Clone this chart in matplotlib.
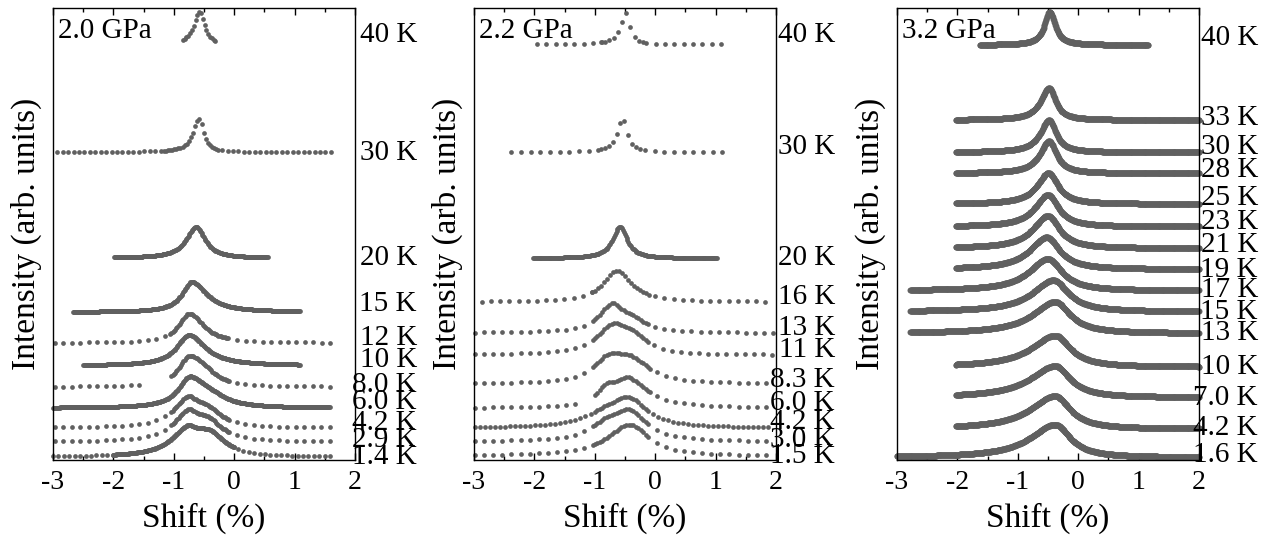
import numpy as np
import matplotlib
matplotlib.use("Agg")
import matplotlib.pyplot as plt
from matplotlib.ticker import MultipleLocator
import matplotlib.transforms as mtransforms

plt.rcParams["font.family"] = ["Liberation Serif", "DejaVu Serif"]
plt.rcParams["axes.unicode_minus"] = False

# ---- 2.0 GPa panel (top curve first) ----
p1_temps = ["40 K", "30 K", "20 K", "15 K", "12 K", "10 K", "8.0 K", "6.0 K", "4.2 K", "2.9 K", "1.4 K"]
p1_base = [415, 308, 202, 148, 117, 94.5, 73, 52, 32, 18, 3]
p1_height = [33, 33, 31, 30, 29.5, 30.5, 31, 31.6, 32, 33, 32]
p1_center = [-0.57, -0.58, -0.63, -0.70, -0.74, -0.75, -0.75, -0.75, -0.77, -0.77, -0.78]
p1_wl = [0.12, 0.12, 0.20, 0.20, 0.22, 0.25, 0.22, 0.22, 0.30, 0.30, 0.33]
p1_wr = [0.10, 0.09, 0.18, 0.30, 0.28, 0.33, 0.27, 0.25, 0.18, 0.18, 0.20]
p1_sh_pos = [0, 0, 0, 0, 0, 0, -0.50, -0.45, -0.47, -0.45, -0.42]
p1_sh_w = [0, 0, 0, 0, 0, 0, 0.25, 0.35, 0.30, 0.30, 0.32]
p1_sh_amp = [0, 0, 0, 0, 0, 0, 0.35, 0.5, 0.8, 0.9, 1.05]
p1_segs = [
    [(-0.85, -0.30, 0.03)],
    [(-2.93, -1.20, 0.09), (-1.17, -0.25, 0.035), (-0.2, 1.59, 0.09)],
    [(-1.99, 0.56, 0.012)],
    [(-2.67, 1.09, 0.012)],
    [(-2.97, -1.15, 0.14), (-1.06, -0.10, 0.02), (0.05, 1.59, 0.14)],
    [(-2.50, 1.09, 0.012)],
    [(-2.97, -1.55, 0.14), (-1.04, -0.08, 0.02), (0.04, 1.59, 0.14)],
    [(-3.00, 1.59, 0.012)],
    [(-2.97, -1.12, 0.14), (-1.04, -0.08, 0.02), (0.04, 1.59, 0.14)],
    [(-2.97, -1.12, 0.14), (-1.04, -0.08, 0.02), (0.04, 1.59, 0.14)],
    [(-3.00, -2.00, 0.09), (-2.00, 0.00, 0.012), (0.06, 1.59, 0.09)],
]
p1_label_y = [425, 307, 202, 156, 122, 100, 75, 58, 37, 20, 3]

# ---- 2.2 GPa panel ----
p2_temps = ["40 K", "30 K", "20 K", "16 K", "13 K", "11 K", "8.3 K", "6.0 K", "4.2 K", "3.0 K", "1.5 K"]
p2_base = [415.5, 307.7, 201.7, 158, 127, 105, 76, 52, 32, 18.3, 4]
p2_height = [31.5, 33, 31.6, 31.5, 30, 32, 31, 31, 31, 32.5, 31.5]
p2_center = [-0.48, -0.53, -0.58, -0.64, -0.72, -0.72, -0.78, -0.45, -0.42, -0.42, -0.42]
p2_wl = [0.11, 0.12, 0.15, 0.27, 0.26, 0.33, 0.30, 0.25, 0.35, 0.30, 0.45]
p2_wr = [0.08, 0.09, 0.14, 0.30, 0.18, 0.20, 0.30, 0.40, 0.35, 0.35, 0.38]
p2_sh_pos = [0, 0, 0, 0, -0.42, -0.42, -0.40, -0.80, -0.80, -0.80, 0]
p2_sh_w = [0, 0, 0, 0, 0.30, 0.32, 0.38, 0.22, 0.45, 0.35, 0]
p2_sh_amp = [0, 0, 0, 0, 0.6, 1.0, 1.1, 0.6, 0.5, 0.6, 0]
p2_segs = [
    [(-1.96, -0.95, 0.155), (-0.90, -0.20, 0.07), (-0.15, 1.07, 0.155)],
    [(-2.38, -0.95, 0.16), (-0.90, -0.25, 0.065), (-0.17, 1.07, 0.16)],
    [(-2.02, 1.02, 0.015)],
    [(-2.87, -1.10, 0.152), (-1.05, -0.10, 0.05), (0.00, 1.85, 0.152)],
    [(-2.98, -1.10, 0.15), (-1.00, -0.10, 0.04), (0.00, 1.90, 0.15)],
    [(-2.98, -1.10, 0.15), (-1.00, -0.12, 0.04), (-0.02, 1.90, 0.15)],
    [(-2.98, -1.10, 0.15), (-1.00, -0.08, 0.04), (0.03, 1.90, 0.15)],
    [(-2.98, -1.30, 0.15), (-1.00, -0.08, 0.04), (0.03, 1.90, 0.15)],
    [(-2.98, -1.05, 0.083), (-1.00, -0.10, 0.04), (-0.04, 1.90, 0.083)],
    [(-2.98, -1.10, 0.15), (-1.00, -0.10, 0.04), (0.03, 1.90, 0.15)],
    [(-2.98, -1.10, 0.15), (-1.00, -0.10, 0.04), (0.03, 1.90, 0.15)],
]
p2_label_y = [425, 313, 202, 163, 132, 110, 80, 57, 38, 20, 4]

# ---- 3.2 GPa panel ----
p3_temps = ["40 K", "33 K", "30 K", "28 K", "25 K", "23 K", "21 K", "19 K", "17 K",
            "15 K", "13 K", "10 K", "7.0 K", "4.2 K", "1.6 K"]
p3_base = [415, 340, 307.7, 286.7, 256, 233.3, 211.7, 190.7, 169.3, 148.3, 126.7, 93, 62.5, 31, 2.5]
p3_height = [33, 32, 32, 32, 31, 32, 32.5, 32, 32, 31.5, 31.5, 31.5, 31.5, 33, 33]
p3_center = [-0.47, -0.48, -0.48, -0.48, -0.49, -0.50, -0.50, -0.52, -0.50,
             -0.41, -0.38, -0.38, -0.38, -0.38, -0.38]
p3_wl = [0.11, 0.17, 0.18, 0.19, 0.23, 0.26, 0.30, 0.34, 0.38, 0.42, 0.45, 0.48, 0.50, 0.50, 0.50]
p3_wr = [0.11, 0.13, 0.14, 0.15, 0.19, 0.21, 0.23, 0.26, 0.28, 0.30, 0.30, 0.30, 0.30, 0.30, 0.30]
p3_xmin = [-1.63, -2.03, -2.03, -2.03, -2.03, -2.03, -2.03, -2.03, -2.78, -2.78, -2.78,
           -2.03, -2.03, -2.03, -3.00]
p3_xmax = [1.16] + [2.0] * 14
p3_label_y = [422, 342, 313, 290, 262, 238, 215, 190, 170, 148, 127, 93, 62, 32, 5]

DOT = "#606060"


def line_shape(x, c, wl, wr, sc, sw, sa):
    w = np.where(x < c, wl, wr)
    y = w ** 2 / ((x - c) ** 2 + w ** 2)
    if sa > 0:
        y = y + sa * sw ** 2 / ((x - sc) ** 2 + sw ** 2)
    return y


def draw_panel(ax, title, temps, base, height, center, wl, wr, sh_pos, sh_w, sh_amp,
               segs, label_y, ms, label_x):
    grid = np.linspace(-3, 2, 2001)
    trans = mtransforms.blended_transform_factory(ax.transAxes, ax.transData)
    for i in range(len(temps)):
        pars = (center[i], wl[i], wr[i], sh_pos[i], sh_w[i], sh_amp[i])
        top = line_shape(grid, *pars).max()
        x = np.concatenate([np.arange(a, b + st / 2, st) for a, b, st in segs[i]])
        y = base[i] + height[i] * line_shape(x, *pars) / top
        ax.plot(x, y, "o", ms=ms, mew=0, color=DOT, clip_on=False)
        ax.text(label_x, label_y[i], temps[i], transform=trans, ha="right",
                va="center", fontsize=21)

    ax.text(0.018, 0.95, title, transform=ax.transAxes, ha="left", va="center", fontsize=21)
    ax.set_xlim(-3, 2)
    ax.set_ylim(0, 452)
    ax.set_yticks([])
    ax.xaxis.set_major_locator(MultipleLocator(1))
    ax.xaxis.set_minor_locator(MultipleLocator(0.5))
    ax.tick_params(axis="x", which="both", direction="in", top=True, width=1, labelsize=20, pad=7)
    ax.tick_params(axis="x", which="major", length=5)
    ax.tick_params(axis="x", which="minor", length=3)
    for s in ax.spines.values():
        s.set_linewidth(1.0)
    ax.set_xlabel("Shift (%)", fontsize=24, labelpad=6)
    ax.set_ylabel("Intensity (arb. units)", fontsize=24)
    ax.yaxis.set_label_coords(-0.035, 0.5)


fig = plt.figure(figsize=(12.73, 5.37), dpi=100)
W, H = 1273.0, 537.0
ax1 = fig.add_axes([53 / W, 77 / H, 302 / W, 452 / H])
ax2 = fig.add_axes([474 / W, 77 / H, 302 / W, 452 / H])
ax3 = fig.add_axes([897 / W, 77 / H, 302 / W, 452 / H])

draw_panel(ax1, "2.0 GPa", p1_temps, p1_base, p1_height, p1_center, p1_wl, p1_wr,
           p1_sh_pos, p1_sh_w, p1_sh_amp, p1_segs, p1_label_y, 3.4, 1.205)
draw_panel(ax2, "2.2 GPa", p2_temps, p2_base, p2_height, p2_center, p2_wl, p2_wr,
           p2_sh_pos, p2_sh_w, p2_sh_amp, p2_segs, p2_label_y, 3.4, 1.195)

n3 = len(p3_temps)
p3_segs = [[(p3_xmin[i], p3_xmax[i], 0.008)] for i in range(n3)]
draw_panel(ax3, "3.2 GPa", p3_temps, p3_base, p3_height, p3_center, p3_wl, p3_wr,
           [0] * n3, [0] * n3, [0] * n3, p3_segs, p3_label_y, 4.3, 1.195)

fig.savefig("out.png", dpi=100)
